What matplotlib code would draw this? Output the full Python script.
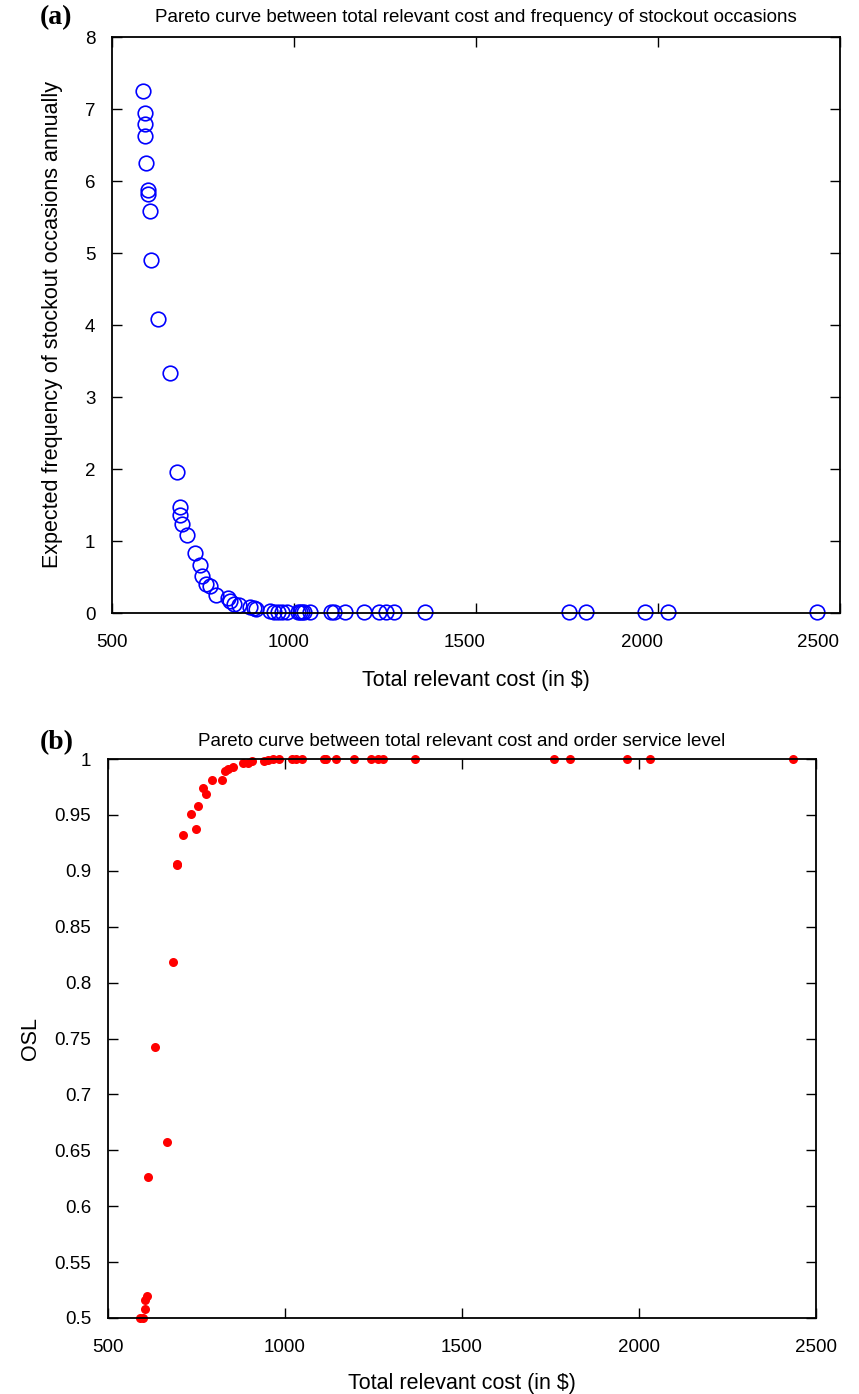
import matplotlib
matplotlib.use("Agg")
import matplotlib.pyplot as plt
from matplotlib.transforms import ScaledTranslation

plt.rcParams['font.family'] = ['Liberation Sans', 'DejaVu Sans']

# panel (a): total relevant cost vs expected stockout frequency
cost_a = [585, 591, 591, 591, 594, 600, 600, 604, 608, 626, 659, 679, 687, 687,
          691, 705, 729, 743, 748, 758, 769, 787, 818, 824, 836, 849, 879, 890,
          896, 934, 945, 957, 966, 981, 1012, 1016, 1022, 1028, 1043, 1101, 1109,
          1140, 1191, 1234, 1253, 1275, 1361, 1755, 1801, 1965, 2028, 2436]
freq_a = [7.25, 6.95, 6.79, 6.62, 6.25, 5.88, 5.82, 5.58, 4.90, 4.08, 3.33, 1.96,
          1.47, 1.36, 1.24, 1.09, 0.84, 0.67, 0.51, 0.40, 0.38, 0.25, 0.21, 0.16,
          0.13, 0.11, 0.09, 0.065, 0.05, 0.03, 0.02, 0.02, 0.01, 0.01, 0.01, 0.01,
          0.01, 0.01, 0.01, 0.01, 0.01, 0.01, 0.01, 0.01, 0.01, 0.01, 0.01, 0.01,
          0.01, 0.01, 0.01, 0.01]

# panel (b): total relevant cost vs order service level
cost_b = [590, 600, 605, 604, 610, 614, 633, 666, 684, 694, 696, 712, 734, 749,
          753, 768, 776, 795, 823, 830, 838, 852, 882, 896, 906, 941, 953, 966,
          982, 1020, 1030, 1047, 1109, 1117, 1145, 1195, 1242, 1263, 1278, 1366,
          1759, 1804, 1966, 2030, 2436]
osl_b = [0.5, 0.5, 0.508, 0.516, 0.52, 0.626, 0.742, 0.657, 0.818, 0.906, 0.905,
         0.932, 0.951, 0.937, 0.958, 0.974, 0.969, 0.981, 0.981, 0.989, 0.991,
         0.993, 0.996, 0.996, 0.998, 0.998, 0.999, 1.0, 1.0, 1.0, 1.0, 1.0, 1.0,
         1.0, 1.0, 1.0, 1.0, 1.0, 1.0, 1.0, 1.0, 1.0, 1.0, 1.0, 1.0]

x_ticks = [500, 1000, 1500, 2000, 2500]
y_ticks_a = [0, 1, 2, 3, 4, 5, 6, 7, 8]
y_ticks_b = [0.5, 0.55, 0.6, 0.65, 0.7, 0.75, 0.8, 0.85, 0.9, 0.95, 1]
y_labels_b = ['0.5', '0.55', '0.6', '0.65', '0.7', '0.75', '0.8', '0.85', '0.9', '0.95', '1']

W, H = 859, 1394
fig = plt.figure(figsize=(W / 100, H / 100), dpi=100)


def style_axes(ax):
    ax.tick_params(direction='in', top=True, right=True, length=7, width=1,
                   labelsize=13.5, pad=12)
    ax.tick_params(axis='x', pad=15)
    for s in ax.spines.values():
        s.set_linewidth(1.3)


# ---- (a) ----
ax1 = fig.add_axes([112 / W, 1 - 613 / H, 728 / W, 576 / H])
ax1.plot(cost_a, freq_a, 'o', mfc='none', mec='#0000ff', ms=10.5, mew=1.2,
         clip_on=False)
ax1.set_xlim(500, 2500)
ax1.set_ylim(0, 8)
ax1.set_xticks(x_ticks)
ax1.set_yticks(y_ticks_a)
style_axes(ax1)
# labels in the original sit slightly left of their ticks
for i, lab in enumerate(ax1.get_xticklabels()):
    lab.set_transform(lab.get_transform() +
                      ScaledTranslation(-5.5 * i / 100, 0, fig.dpi_scale_trans))
ax1.set_xlabel('Total relevant cost (in $)', fontsize=15.5, labelpad=14)
ax1.set_ylabel('Expected frequency of stockout occasions annually', fontsize=15.5,
               labelpad=16)
ax1.set_title('Pareto curve between total relevant cost and frequency of stockout occasions',
              fontsize=13.5, pad=11)
fig.text(40 / W, 1 - 18 / H, '(a)', fontsize=20, fontweight='bold',
         family='Liberation Serif', va='center')

# ---- (b) ----
ax2 = fig.add_axes([108 / W, 1 - 1318 / H, 708 / W, 559 / H])
ax2.plot(cost_b, osl_b, 'o', color='#ff0000', ms=6.5, mew=0, clip_on=False)
ax2.set_xlim(500, 2500)
ax2.set_ylim(0.5, 1)
ax2.set_xticks(x_ticks)
ax2.set_yticks(y_ticks_b)
ax2.set_yticklabels(y_labels_b)
style_axes(ax2)
ax2.set_xlabel('Total relevant cost (in $)', fontsize=15.5, labelpad=12)
ax2.set_ylabel('OSL', fontsize=15.5, labelpad=10)
ax2.set_title('Pareto curve between total relevant cost and order service level',
              fontsize=13.5, pad=9)
fig.text(40 / W, 1 - 743 / H, '(b)', fontsize=20, fontweight='bold',
         family='Liberation Serif', va='center')

fig.savefig('out.png', dpi=100)
